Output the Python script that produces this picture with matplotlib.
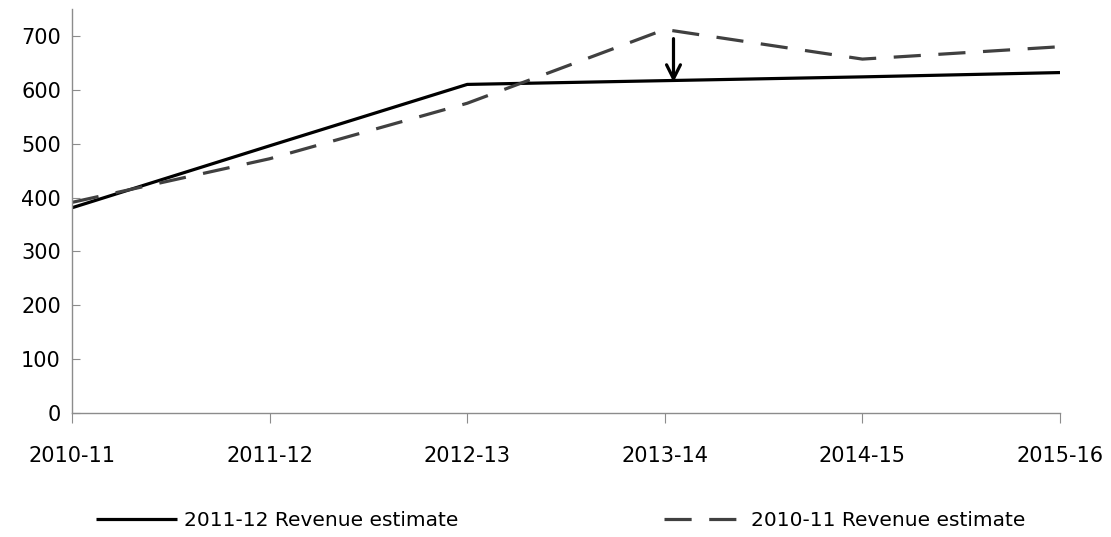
import matplotlib
matplotlib.use("Agg")
import matplotlib.pyplot as plt

years = ["2010-11", "2011-12", "2012-13", "2013-14", "2014-15", "2015-16"]
est_2011_12 = [381, 496, 610, 617, 624, 632]
est_2010_11 = [391, 472, 575, 712, 657, 680]
y_ticks = [0, 100, 200, 300, 400, 500, 600, 700]

plt.rcParams['font.family'] = ['DejaVu Sans']

fig = plt.figure(figsize=(11.11, 5.37), dpi=100)
ax = fig.add_axes([72 / 1111, 124 / 537, (1060 - 72) / 1111, (413 - 9) / 537])

x = list(range(len(years)))
ax.plot(x, est_2011_12, color="black", lw=2.3, solid_capstyle="butt",
        label="2011-12 Revenue estimate")
ax.plot(x, est_2010_11, color="#404040", lw=2.3, dashes=(8.5, 5.5),
        label="2010-11 Revenue estimate")

# arrow showing the downward revision
ax.annotate("", xy=(3.044, est_2011_12[3] - 3), xytext=(3.044, 695),
            arrowprops=dict(arrowstyle="->", color="black", lw=2.3,
                            mutation_scale=25, shrinkA=0, shrinkB=0))

ax.set_xlim(0, len(years) - 1)
ax.set_ylim(0, 750)
ax.set_xticks(x)
ax.set_xticklabels(years)
ax.set_yticks(y_ticks)
for s in ["top", "right"]:
    ax.spines[s].set_visible(False)
for s in ["left", "bottom"]:
    ax.spines[s].set_color("#8c8c8c")
    ax.spines[s].set_linewidth(1.0)
ax.tick_params(axis="x", direction="out", length=7, color="#8c8c8c",
               labelsize=15, pad=17)
ax.tick_params(axis="y", direction="in", length=6, color="#8c8c8c",
               labelsize=15, pad=8)

fig.legend(loc="center", bbox_to_anchor=(0.505, 16 / 537), ncol=2, frameon=False,
           fontsize=14.5, handlelength=4.0, handletextpad=0.35, columnspacing=10.2,
           borderpad=0.1)

fig.savefig("out.png", dpi=100)
